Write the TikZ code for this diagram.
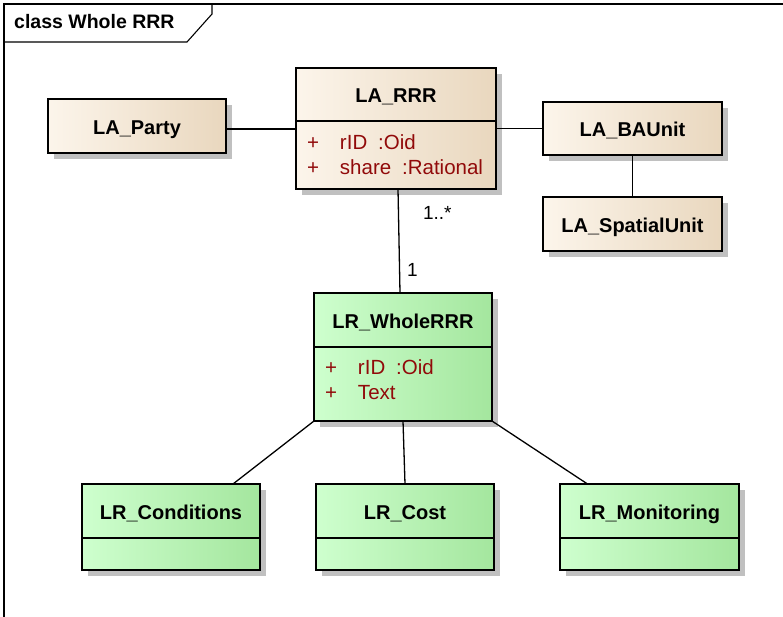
\documentclass[tikz,border=0pt]{standalone}
\usepackage{fontspec}
\setmainfont{Liberation Sans}
\usepackage{tikz}
\usetikzlibrary{positioning,shadows}

\definecolor{laleft}{RGB}{252,245,235}
\definecolor{lamid}{RGB}{248,238,224}
\definecolor{laright}{RGB}{233,215,190}
\definecolor{lrleft}{RGB}{206,255,206}
\definecolor{lrmid}{RGB}{196,250,194}
\definecolor{lrright}{RGB}{164,230,158}
\definecolor{attrred}{RGB}{145,10,10}
\definecolor{shadowgray}{RGB}{192,192,192}

\newcommand{\attrline}[2]{\makebox[33pt][l]{+}#1\ \hspace{4pt}#2}

\begin{document}
\begin{tikzpicture}[
    x=1pt, y=1pt,
    classbox/.style={rectangle, draw, line width=1.3pt, inner sep=0pt, outer sep=0pt,
        drop shadow={shadow xshift=6pt, shadow yshift=-6pt, fill=shadowgray, opacity=1},
        font=\fontsize{20}{24}\selectfont\bfseries, text height=17pt, text depth=0pt},
    la/.style={classbox, left color=laleft, middle color=lamid, right color=laright},
    lr/.style={classbox, left color=lrleft, middle color=lrmid, right color=lrright},
    attrs/.style={font=\fontsize{20.5}{25}\selectfont, text=attrred, align=left, inner xsep=11pt,
        text height=, text depth=},
    assoc/.style={line width=1.3pt},
    mult/.style={font=\fontsize{19}{21}\selectfont, inner sep=0pt}
]
\useasboundingbox (0,0) rectangle (783,-617);

% frame
\draw[line width=1.1pt] (783,-4) -- (4,-4) -- (4,-617);
\draw[line width=1.1pt] (4,-42) -- (187,-42) -- (212,-14) -- (212,-4);
\node[anchor=west, inner sep=0pt, font=\fontsize{19.5}{23}\selectfont\bfseries] (title) at (14,-22) {class Whole RRR};

% LA classes
\node[la, minimum width=200pt, minimum height=53pt] (rrr) at (396,-94.5) {LA\_RRR};
\node[la, attrs, text width=178pt, minimum height=68pt, below=0pt of rrr] (rrrA)
    {\attrline{rID}{:Oid}\\ \attrline{share}{:Rational}};
\node[la, minimum width=178pt, minimum height=54pt] (party) at (137,-126) {LA\_Party};
\node[la, minimum width=179pt, minimum height=53pt] (bau) at (632.5,-128.5) {LA\_BAUnit};
\node[la, minimum width=179pt, minimum height=54pt, below=42pt of bau] (spatial) {LA\_SpatialUnit};

% LR classes
\node[lr, minimum width=178pt, minimum height=54pt] (whole) at (403,-320) {LR\_WholeRRR};
\node[lr, attrs, text width=156pt, minimum height=74pt, text depth=33pt, below=0pt of whole] (wholeA)
    {\attrline{rID}{:Oid}\\ \attrline{Text}{}};

\node[lr, minimum width=178pt, minimum height=54pt] (cost) at (405,-511) {LR\_Cost};
\node[lr, minimum width=178pt, minimum height=32pt, below=0pt of cost] (costA) {};
\node[lr, minimum width=178pt, minimum height=54pt, left=56pt of cost] (cond) {LR\_Conditions};
\node[lr, minimum width=178pt, minimum height=32pt, below=0pt of cond] (condA) {};
\node[lr, minimum width=179pt, minimum height=54pt, right=66pt of cost] (mon) {LR\_Monitoring};
\node[lr, minimum width=179pt, minimum height=32pt, below=0pt of mon] (monA) {};

% associations
\draw[assoc] ([yshift=-3pt]party.east) -- ([yshift=-3pt]party.east -| rrrA.west);
\draw[assoc] (bau.west) -- (bau.west -| rrrA.east);
\draw[assoc] (bau) -- (spatial);
\draw[assoc] ([xshift=2pt]rrrA.south) --
    node[mult, pos=0.23, right=24pt] {1..*}
    node[mult, pos=0.78, right=7pt] {1}
    ([xshift=-3pt]whole.north);
\draw[assoc] (wholeA.south west) -- ([xshift=62pt]cond.north);
\draw[assoc] (wholeA.south) -- (cost.north);
\draw[assoc] (wholeA.south east) -- ([xshift=-62pt]mon.north);

\end{tikzpicture}
\end{document}
